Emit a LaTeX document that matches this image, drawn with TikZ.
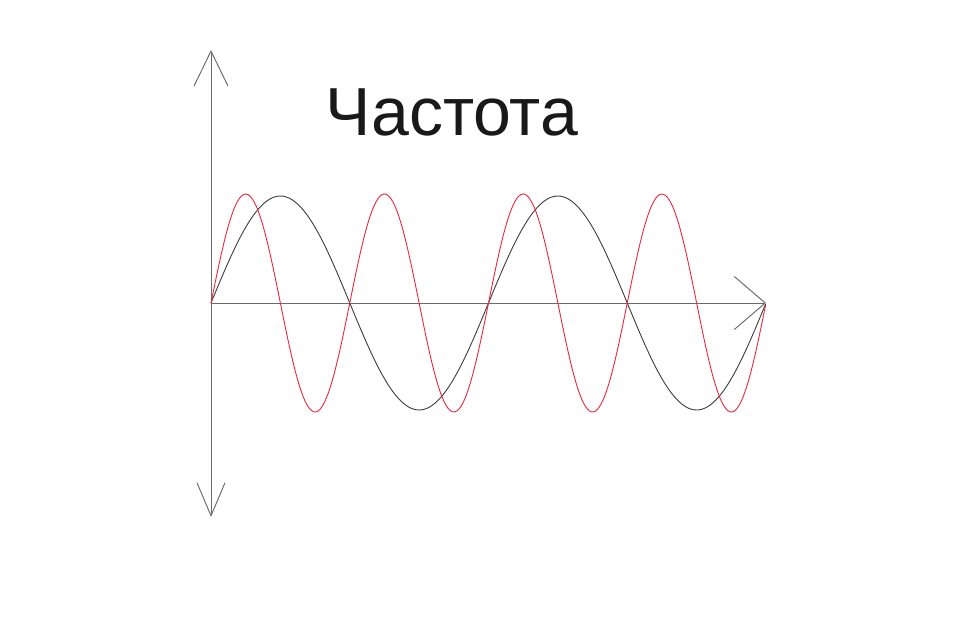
\documentclass[tikz,border=0pt]{standalone}
\usepackage{fontspec}
\setmainfont{Liberation Sans}
\usepackage{tikz}
\usetikzlibrary{arrows.meta}
\definecolor{axisgray}{HTML}{6A6A6A}
\definecolor{wavegray}{HTML}{3C3C3C}
\definecolor{wavered}{HTML}{E8283C}
\tikzset{
  axisline/.style={draw=axisgray,line width=0.95pt},
  slowwave/.style={draw=wavegray,line width=0.9pt,smooth},
  fastwave/.style={draw=wavered,line width=0.9pt,smooth},
  titletext/.style={font=\fontsize{68}{80}\selectfont,text=black!90,inner sep=0pt}
}

\begin{document}
\begin{tikzpicture}[x=1pt,y=-1pt]
\useasboundingbox (0,0) rectangle (960,640);
\coordinate (orig) at (211,303);
\coordinate (ytop) at (211,50);
\coordinate (ybot) at (211,517);
\coordinate (xend) at (766,303);

\node[titletext,anchor=base] (title) at (452,135) {Частота};

% axes
\draw[axisline,-{Straight Barb[length=35pt,width=34pt]}] (orig) -- (ytop);
\draw[axisline,-{Straight Barb[length=33pt,width=28pt]}] (orig) -- (ybot);
\draw[axisline,-{Straight Barb[length=31pt,width=53pt]}] (orig) -- (xend);

% waves
\draw[slowwave] plot[domain=0:2,samples=220] ({211+277.5*\x},{303-107*sin(360*\x)});
\draw[fastwave] plot[domain=0:4,samples=300] ({211+138.75*\x},{303-109*sin(360*\x)});
\end{tikzpicture}
\end{document}
